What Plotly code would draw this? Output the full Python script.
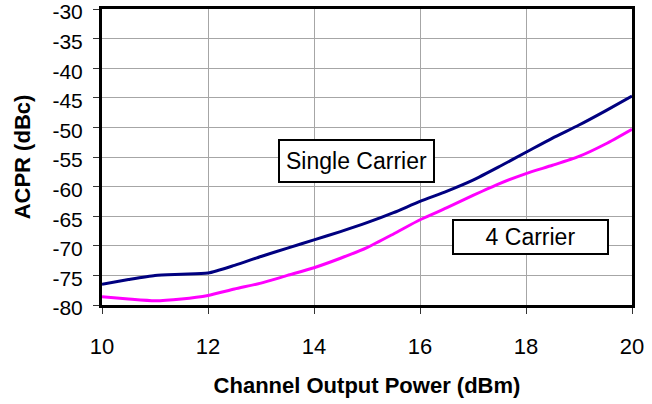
import plotly.graph_objects as go

power_dbm = [10, 10.5, 11, 11.5, 12, 12.5, 13, 13.5, 14, 14.5, 15, 15.5, 16, 16.5, 17, 17.5, 18, 18.5, 19, 19.5, 20]
acpr_single = [-76.5, -75.7, -75.0, -74.8, -74.6, -73.3, -71.8, -70.4, -69.0, -67.6, -66.1, -64.4, -62.5, -60.8,
               -58.9, -56.6, -54.2, -51.8, -49.6, -47.2, -44.7]
acpr_four = [-78.6, -79.0, -79.3, -79.0, -78.4, -77.3, -76.3, -75.0, -73.7, -72.1, -70.3, -68.0, -65.6, -63.6,
             -61.5, -59.5, -57.8, -56.4, -54.9, -52.8, -50.3]
x_ticks = [10, 12, 14, 16, 18, 20]
y_ticks = [-30, -35, -40, -45, -50, -55, -60, -65, -70, -75, -80]

FONT = "Liberation Sans, Arial, sans-serif"

fig = go.Figure()
fig.add_trace(go.Scatter(x=power_dbm, y=acpr_single, mode="lines", name="Single Carrier",
                         line=dict(color="#000080", width=3, shape="spline", smoothing=0.6)))
fig.add_trace(go.Scatter(x=power_dbm, y=acpr_four, mode="lines", name="4 Carrier",
                         line=dict(color="#FF00FF", width=3, shape="spline", smoothing=0.6)))

fig.add_annotation(x=14.81, y=-55.7, xref="x", yref="y", text="Single Carrier", showarrow=False,
                   font=dict(family=FONT, size=23, color="black"), bgcolor="white",
                   bordercolor="black", borderwidth=2, borderpad=1, width=151, height=38)
fig.add_annotation(x=18.08, y=-68.5, xref="x", yref="y", text="4 Carrier", showarrow=False,
                   font=dict(family=FONT, size=23, color="black"), bgcolor="white",
                   bordercolor="black", borderwidth=2, borderpad=1, width=151, height=30)

fig.update_layout(
    width=652, height=404,
    margin=dict(l=102, r=20, t=9, b=99),
    paper_bgcolor="white", plot_bgcolor="white",
    showlegend=False,
    font=dict(family=FONT, color="black"),
)
fig.update_xaxes(range=[10, 20], tickvals=x_ticks, ticktext=[str(v) for v in x_ticks],
                 showgrid=True, gridcolor="#A6A6A6", gridwidth=1, automargin=False,
                 showline=True, linecolor="black", linewidth=3, mirror=True,
                 ticks="outside", ticklen=6, tickcolor="#333333", tickwidth=1,
                 ticklabelstandoff=14, ticklabeloverflow="allow",
                 tickfont=dict(family=FONT, size=22), zeroline=False,
                 title=dict(text="<b>Channel Output Power (dBm)</b>", font=dict(family=FONT, size=22), standoff=20))
fig.update_yaxes(range=[-80, -30], tickvals=y_ticks, ticktext=[str(v) for v in y_ticks],
                 showgrid=True, gridcolor="#A6A6A6", gridwidth=1, automargin=False,
                 showline=True, linecolor="black", linewidth=3, mirror=True,
                 ticks="outside", ticklen=6, tickcolor="#333333", tickwidth=1,
                 ticklabelstandoff=6, ticklabelshift=3, ticklabeloverflow="allow",
                 tickfont=dict(family=FONT, size=21), zeroline=False,
                 title=dict(text="<b>ACPR (dBc)</b>", font=dict(family=FONT, size=22), standoff=16))

fig.write_html("out.html", config={"displayModeBar": False},
               post_script="document.body.style.margin='0';document.body.style.overflow='hidden';")
